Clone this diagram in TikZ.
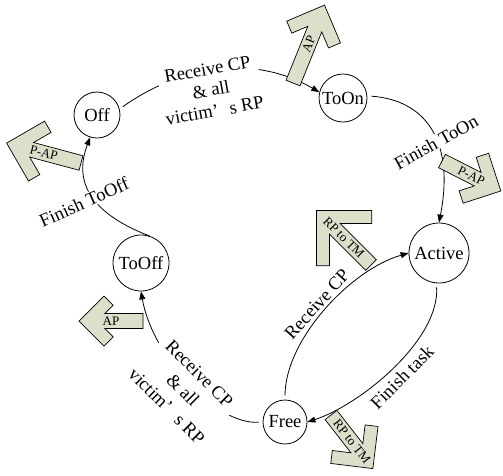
\documentclass[tikz,border=0pt]{standalone}
\usepackage{fontspec}
\setmainfont{Liberation Serif}
\usetikzlibrary{arrows.meta}
\definecolor{sage}{HTML}{DCE0CB}

% name, base, angle, length, arm, label, text angle
\newcommand{\blockarrow}[7]{%
  \begin{scope}[shift={#2},rotate=#3]
    \draw[blk] (0,-7.5) -- ({#4-25.9},-7.5) -- ({#4-#5-9.2},{9.2-#5}) -- ({#4-#5},{-#5})
      -- (#4,0) -- ({#4-#5},#5) -- ({#4-#5-9.2},{#5-9.2}) -- ({#4-25.9},7.5) -- (0,7.5) -- cycle;
    \node[tag,rotate=#7] (#1) at ({#4/2},0) {#6};
  \end{scope}}

\begin{document}
\begin{tikzpicture}[x=1pt,y=-1pt,
  font=\fontsize{18.5}{21}\selectfont,
  state/.style={draw,circle,line width=0.8pt,inner sep=0pt},
  trans/.style={-{Triangle[length=8pt,width=6pt]},line width=0.8pt,shorten <=4pt},
  lbl/.style={fill=white,align=center,inner sep=1pt},
  blk/.style={draw,fill=sage,line width=0.7pt},
  tag/.style={font=\fontsize{13}{15}\selectfont,inner sep=0pt}
]
\useasboundingbox (0,0) rectangle (503,475);
% states
\node[state,minimum size=46pt] (off)    at (97,115)  {Off};
\node[state,minimum size=48pt] (toon)   at (343,98)  {ToOn};
\node[state,minimum size=60pt] (active) at (439,253) {Active};
\node[state,minimum size=44pt] (free)   at (285,422) {Free};
\node[state,minimum size=56pt] (tooff)  at (141,263) {ToOff};
% transitions
\draw[trans] (off.15) .. controls (182,65) and (253,54) .. (toon.166);
\draw[trans] (toon.5) .. controls (425,100) and (455,140) .. (active.north);
\draw[trans] (active.265) .. controls (440,340) and (360,405) .. (free.east);
\draw[trans] (free.north) .. controls (285,340) and (350,270) .. (active.west);
\draw[trans] (free.west) .. controls (215,425) and (152,355) .. (tooff.south);
\draw[trans] (tooff.64) .. controls (95,215) and (72,185) .. (off.253);
% labels
\node[lbl,rotate=10]  (rcvon)   at (211,90)  {Receive CP\\\& all\\victim’\hspace{0.6em}s RP};
\node[lbl,rotate=29]  (finon)   at (436,142) {Finish ToOn};
\node[lbl,rotate=45]  (fintask) at (402,377) {Finish task};
\node[lbl,rotate=48]  (rcvcp)   at (317,304) {Receive CP};
\node[lbl,rotate=-45] (rcvoff)  at (183,390) {Receive CP\\[2pt]\& all\\[2pt]victim’\hspace{0.6em}s RP};
\node[lbl,rotate=24]  (finoff)  at (84,202)  {Finish ToOff};
% messages
\blockarrow{apon}{(293,83)}{68}{84}{29}{AP}{68}
\blockarrow{papon}{(442,161)}{-27}{66}{28}{P-AP}{-27}
\blockarrow{rpact}{(371,265)}{135}{77}{39}{RP to TM}{-45}
\blockarrow{rpfree}{(331,415)}{-52}{68}{30}{RP to TM}{-52}
\blockarrow{apoff}{(143,321)}{180}{64}{25}{AP}{0}
\blockarrow{papoff}{(81,163)}{165}{77}{31}{P-AP}{-15}
\end{tikzpicture}
\end{document}
